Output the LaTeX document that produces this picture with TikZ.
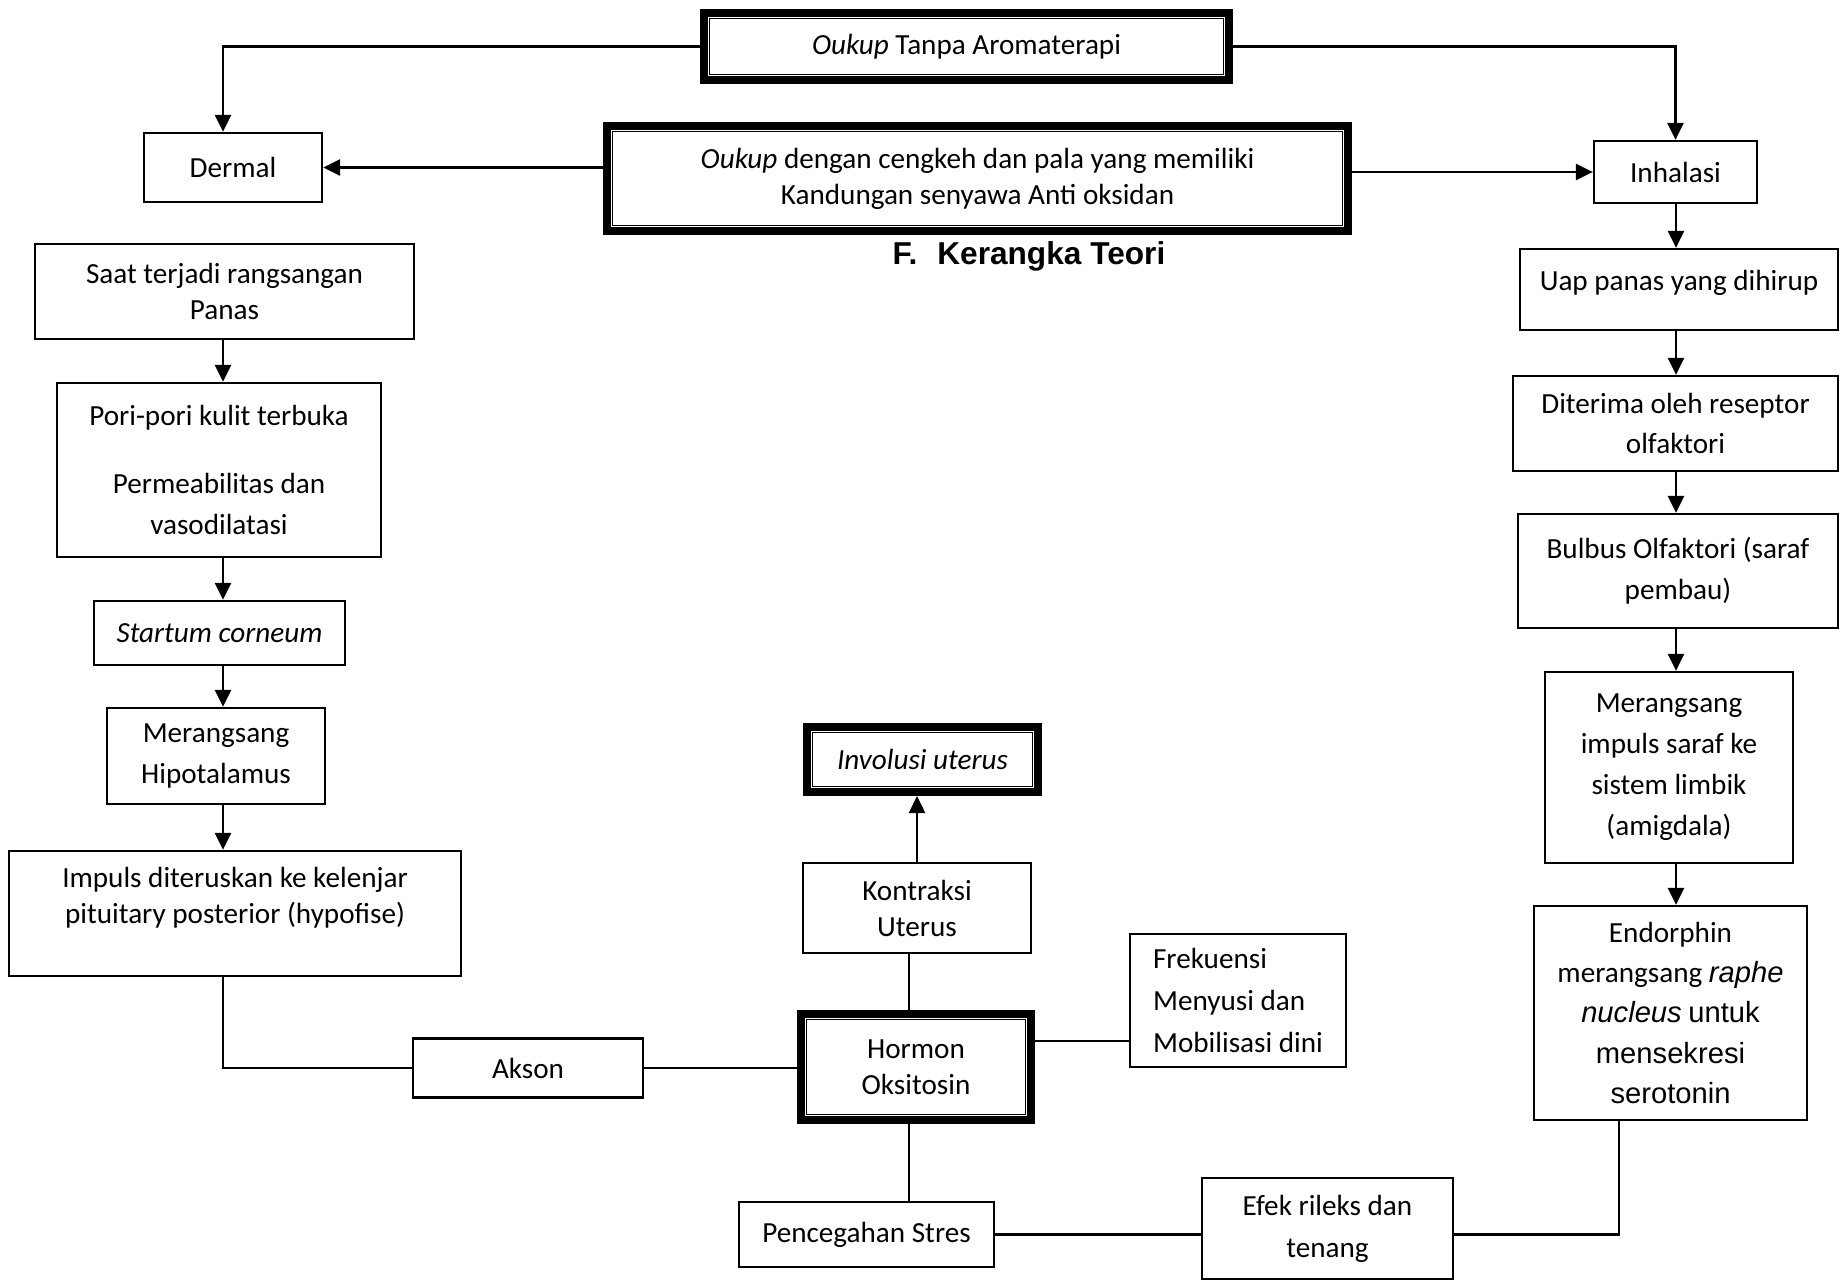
\documentclass[tikz,border=0pt]{standalone}
\usepackage{fontspec}
\setmainfont{Carlito}
\newfontfamily\arialfont{Liberation Sans}
\usetikzlibrary{arrows.meta}
\usetikzlibrary{positioning}
\usetikzlibrary{calc}

\begin{document}
\begin{tikzpicture}[
  box/.style={draw,line width=1.3pt,align=center,inner sep=2pt,font=\fontsize{16.6}{20.5}\selectfont},
  loose/.style={font=\fontsize{16.6}{23.3}\selectfont},
  looser/.style={font=\fontsize{16.6}{23.9}\selectfont},
  heavy/.style={box,line width=0.16cm},
  conn/.style={line width=1.4pt},
  arr/.style={conn,-{Triangle[length=0.34cm,width=0.32cm]}}]
  \useasboundingbox (0,0) rectangle (36.8,-25.64);

  % guide lines of the columns
  \coordinate (lx) at (4.46,0);
  \coordinate (rx) at (33.52,0);
  \coordinate (mx) at (18.18,0);
  \coordinate (ex) at (32.38,0);

  % top
  \node[heavy,minimum width=10.5cm,minimum height=1.34cm] (Tanpa) at (19.33,-0.93) {\textit{Oukup} Tanpa Aromaterapi};
  \node[heavy,minimum width=14.82cm,minimum height=2.1cm] (Cengkeh) at (19.55,-3.57) {\textit{Oukup} dengan cengkeh dan pala yang memiliki\\ Kandungan senyawa Anti oksidan};
  \node[font=\arialfont\bfseries\fontsize{18}{22}\selectfont] (Judul) at (20.58,-5.12) {F.\hspace{0.4cm}Kerangka Teori};
  \node[box,minimum width=3.56cm,minimum height=1.38cm] (Dermal) at (4.66,-3.35) {Dermal};
  \node[box,minimum width=3.26cm,minimum height=1.24cm] (Inhalasi) at (33.51,-3.44) {Inhalasi};

  % dermal side
  \node[box,minimum width=7.58cm,minimum height=1.9cm] (SaatPanas) at (4.49,-5.83) {Saat terjadi rangsangan\\ Panas};
  \node[box,loose,minimum width=6.48cm,minimum height=3.48cm] (PoriPori) at (4.38,-9.4) {Pori-pori kulit terbuka\\[0.54cm] Permeabilitas dan\\ vasodilatasi};
  \node[box,minimum width=5.02cm,minimum height=1.28cm] (Startum) at (4.39,-12.66) {\textit{Startum corneum}};
  \node[box,loose,minimum width=4.36cm,minimum height=1.92cm] (Hipotalamus) at (4.32,-15.12) {Merangsang\\ Hipotalamus};
  \node[box,minimum width=9.04cm,minimum height=2.5cm] (Impuls) at (4.7,-18.27) {Impuls diteruskan ke kelenjar\\ pituitary posterior (hypofise)\\ \mbox{}};
  \node[box,minimum width=4.6cm,minimum height=1.18cm] (Akson) at (10.56,-21.36) {Akson};

  % middle
  \node[heavy,minimum width=4.62cm,minimum height=1.3cm] (Involusi) at (18.45,-15.19) {\textit{Involusi uterus}};
  \node[box,minimum width=4.56cm,minimum height=1.8cm] (Kontraksi) at (18.34,-18.16) {Kontraksi\\ Uterus};
  \node[heavy,minimum width=4.6cm,minimum height=2.12cm] (Oksitosin) at (18.32,-21.34) {Hormon\\ Oksitosin};
  \node[box,looser,align=left,minimum width=4.32cm,minimum height=2.66cm] (Frekuensi) at (24.76,-20.01) {Frekuensi\\ Menyusi dan\\ Mobilisasi dini};
  \node[box,minimum width=5.1cm,minimum height=1.3cm] (Pencegahan) at (17.33,-24.69) {Pencegahan Stres};
  \node[box,looser,minimum width=5.02cm,minimum height=2.02cm] (Efek) at (26.55,-24.57) {Efek rileks dan\\ tenang};

  % inhalasi side
  \node[box,text depth=0.36cm,minimum width=6.36cm,minimum height=1.62cm] (UapPanas) at (33.58,-5.79) {Uap panas yang dihirup};
  \node[box,loose,minimum width=6.5cm,minimum height=1.9cm] (Reseptor) at (33.51,-8.47) {Diterima oleh reseptor\\ olfaktori};
  \node[box,loose,minimum width=6.4cm,minimum height=2.28cm] (Bulbus) at (33.56,-11.42) {Bulbus Olfaktori (saraf\\ pembau)};
  \node[box,loose,minimum width=4.96cm,minimum height=3.82cm] (Limbik) at (33.38,-15.35) {Merangsang\\ impuls saraf ke\\ sistem limbik\\ (amigdala)};
  \node[box,minimum width=5.46cm,minimum height=4.28cm,font=\fontsize{16.6}{22.8}\selectfont] (Endorphin) at (33.41,-20.26) {Endorphin\\ merangsang {\arialfont\itshape raphe}\\ {\arialfont\itshape nucleus} {\arialfont untuk}\\ {\arialfont mensekresi}\\ {\arialfont serotonin}};

  % inner line of the heavy boxes
  \foreach \n in {Tanpa,Cengkeh,Involusi,Oksitosin}
    \draw[line width=1pt] ([shift={(0.19cm,-0.19cm)}]\n.north west) rectangle ([shift={(-0.19cm,0.19cm)}]\n.south east);

  % connectors on top
  \draw[arr] (Tanpa.west) -| (lx |- Dermal.north);
  \draw[arr] (Tanpa.east) -| (Inhalasi.north);
  \draw[arr] (Cengkeh.west |- Dermal.east) -- (Dermal.east);
  \draw[arr] (Cengkeh.east |- Inhalasi.west) -- (Inhalasi.west);

  % connectors on the left
  \draw[arr] (lx |- SaatPanas.south) -- (lx |- PoriPori.north);
  \draw[arr] (lx |- PoriPori.south) -- (lx |- Startum.north);
  \draw[arr] (lx |- Startum.south) -- (lx |- Hipotalamus.north);
  \draw[arr] (lx |- Hipotalamus.south) -- (lx |- Impuls.north);
  \draw[conn] (lx |- Impuls.south) |- (Akson.west);
  \draw[conn] (Akson.east) -- (Akson.east -| Oksitosin.west);

  % connectors in the middle
  \draw[conn] (mx |- Oksitosin.north) -- (mx |- Kontraksi.south);
  \draw[arr] (Kontraksi.north) -- (Kontraksi.north |- Involusi.south);
  \coordinate (hf) at ([yshift=0.52cm]Oksitosin.east);
  \draw[conn] (hf) -- (hf -| Frekuensi.west);
  \draw[conn] (mx |- Oksitosin.south) -- (mx |- Pencegahan.north);
  \draw[conn] (Pencegahan.east) -- (Pencegahan.east -| Efek.west);
  \draw[conn] (Efek.east |- Pencegahan.east) -| (ex |- Endorphin.south);

  % connectors on the right
  \draw[arr] (rx |- Inhalasi.south) -- (rx |- UapPanas.north);
  \draw[arr] (rx |- UapPanas.south) -- (rx |- Reseptor.north);
  \draw[arr] (rx |- Reseptor.south) -- (rx |- Bulbus.north);
  \draw[arr] (rx |- Bulbus.south) -- (rx |- Limbik.north);
  \draw[arr] (rx |- Limbik.south) -- (rx |- Endorphin.north);
\end{tikzpicture}
\end{document}
